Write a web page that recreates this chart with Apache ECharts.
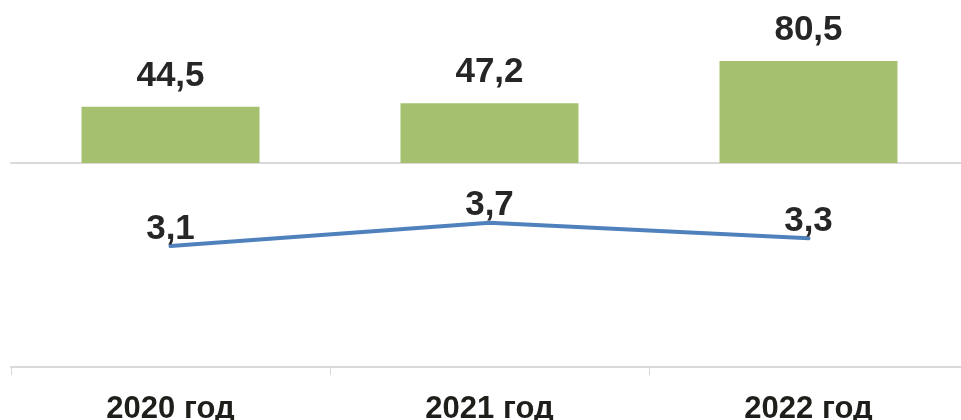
<!DOCTYPE html>
<html>
<head>
<meta charset="utf-8">
<script src="https://cdn.jsdelivr.net/npm/echarts@6/dist/echarts.min.js"></script>
<style>
  html, body { margin: 0; padding: 0; background: #fff; }
  #chart { width: 961px; height: 420px; }
</style>
</head>
<body>
<div id="chart"></div>
<script>
// годы и значения
const years = ['2020 год', '2021 год', '2022 год'];
const barValues = [44.5, 47.2, 80.5];
const lineValues = [3.1, 3.7, 3.3];

const fmt = v => String(v.value).replace('.', ',');
const font = 'Liberation Sans, Arial, sans-serif';

const chart = echarts.init(document.getElementById('chart'));

chart.setOption({
  backgroundColor: '#fff',
  animation: false,
  grid: [
    { left: 11, width: 957, top: 1, bottom: 257, outerBoundsMode: 'none' },
    { left: 11, width: 957, top: 172, bottom: 53, outerBoundsMode: 'none' }
  ],
  xAxis: [
    {
      type: 'category', gridIndex: 0, data: years,
      axisLine: { lineStyle: { color: '#d9d9d9', width: 2 } },
      axisTick: { show: false },
      axisLabel: { show: false }
    },
    {
      type: 'category', gridIndex: 1, data: years,
      axisLine: { lineStyle: { color: '#d9d9d9', width: 2 } },
      axisTick: { show: true, length: 8, lineStyle: { color: '#d9d9d9', width: 1 } },
      axisLabel: {
        margin: 27, color: '#1e1e1a', fontSize: 31, fontWeight: 'bold', fontFamily: font
      }
    }
  ],
  yAxis: [
    { type: 'value', gridIndex: 0, min: 0, max: 128, show: false, splitLine: { show: false } },
    { type: 'value', gridIndex: 1, min: 0, max: 5, show: false, splitLine: { show: false } }
  ],
  series: [
    {
      type: 'bar', xAxisIndex: 0, yAxisIndex: 0,
      data: barValues,
      barWidth: 178,
      itemStyle: { color: '#a5c16f' },
      label: {
        show: true, position: 'top', distance: 13,
        color: '#262626', fontSize: 35, fontWeight: 'bold', fontFamily: font,
        formatter: fmt
      }
    },
    {
      type: 'line', xAxisIndex: 1, yAxisIndex: 1,
      data: lineValues,
      symbol: 'circle',
      symbolSize: 3,
      showSymbol: true,
      itemStyle: { color: '#4f81bd' },
      lineStyle: { color: '#4f81bd', width: 4, cap: 'round' },
      label: {
        show: true, position: 'top', distance: -2,
        color: '#262626', fontSize: 35, fontWeight: 'bold', fontFamily: font,
        formatter: fmt
      },
      labelLayout: { hideOverlap: false },
      z: 3
    }
  ]
});
</script>
</body>
</html>
